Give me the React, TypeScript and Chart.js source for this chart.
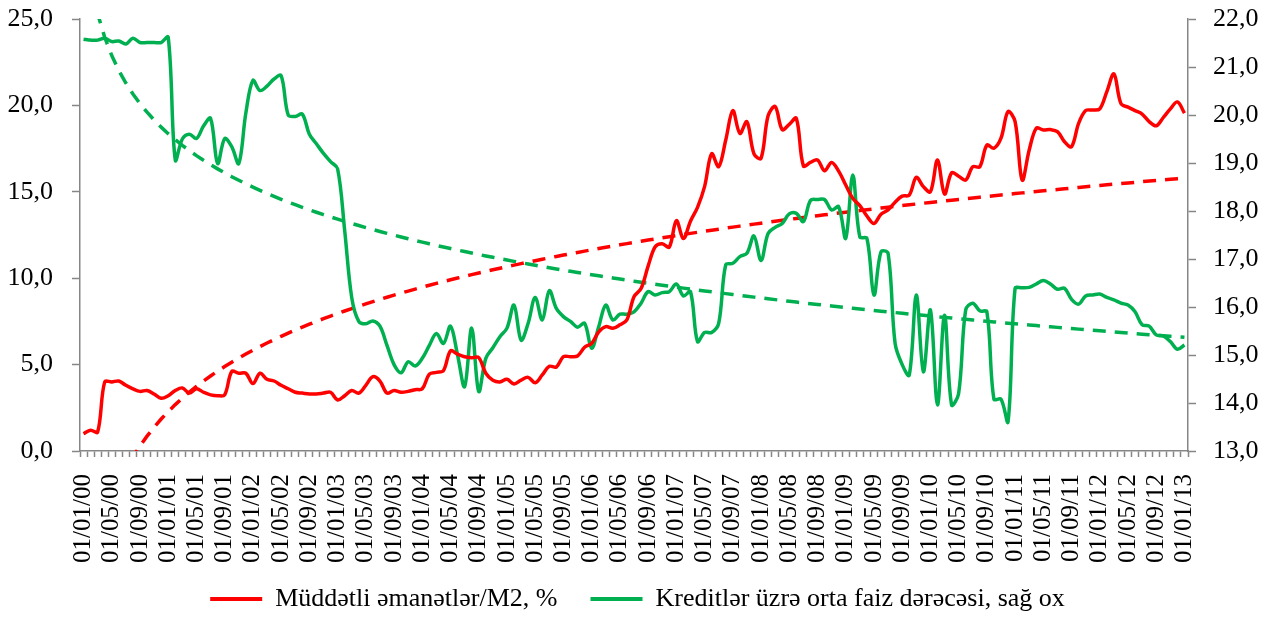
import React, { useEffect, useRef } from 'react';
import { Chart, registerables } from 'chart.js';

Chart.register(...registerables);

// Category labels: monthly, 01/01/00 .. 01/01/13
const monthLabels: string[] = (() => {
  const out: string[] = [];
  for (let y = 2000; y <= 2013; y++) {
    for (let m = 1; m <= 12; m++) {
      if (y === 2013 && m > 1) break;
      out.push(`01/${String(m).padStart(2, '0')}/${String(y % 100).padStart(2, '0')}`);
    }
  }
  return out;
})();

// Show every 4th category label
const tickEvery = 4;

const seriesNames = ['Müddətli əmanətlər/M2, %', 'Kreditlər üzrə orta faiz dərəcəsi, sağ ox'];

// Müddətli əmanətlər/M2, % (left axis)
const termDepositsShare: number[] = [
  1.0, 1.2, 1.1, 4.0, 4.0, 4.05, 3.8, 3.6, 3.45, 3.5,
  3.3, 3.05, 3.2, 3.5, 3.65, 3.35, 3.6, 3.4, 3.25, 3.2,
  3.25, 4.6, 4.5, 4.5, 3.9, 4.5, 4.15, 4.05, 3.8, 3.6,
  3.4, 3.35, 3.3, 3.3, 3.35, 3.4, 2.95, 3.2, 3.5, 3.35,
  3.8, 4.3, 4.05, 3.35, 3.5, 3.4, 3.45, 3.55, 3.6, 4.45,
  4.55, 4.65, 5.8, 5.6, 5.45, 5.4, 5.4, 4.5, 4.1, 4.0,
  4.15, 3.88, 4.1, 4.26, 3.95, 4.4, 4.9, 4.86, 5.46, 5.46,
  5.5, 6.0, 6.23, 6.9, 7.2, 7.1, 7.3, 7.6, 8.93, 9.4,
  10.7, 11.82, 12.0, 11.8, 13.33, 12.3, 13.3, 14.1, 15.3, 17.2,
  16.45, 18.0, 19.7, 18.38, 19.06, 17.2, 16.94, 19.4, 19.93, 18.6,
  18.9, 19.25, 16.5, 16.7, 16.84, 16.22, 16.7, 16.2, 15.39, 14.62,
  14.2, 13.6, 13.17, 13.7, 13.95, 14.4, 14.75, 14.81, 15.84, 15.3,
  15.0, 16.84, 14.87, 16.1, 15.9, 15.68, 16.45, 16.45, 17.7, 17.52,
  18.1, 19.64, 19.06, 15.68, 17.42, 18.68, 18.58, 18.6, 18.48, 17.9,
  17.61, 18.96, 19.7, 19.73, 19.8, 20.8, 21.82, 20.1, 19.9, 19.7,
  19.5, 19.06, 18.82, 19.3, 19.8, 20.2, 19.55,
];

// Kreditlər üzrə orta faiz dərəcəsi (right axis)
const lendingRate: number[] = [
  21.58, 21.56, 21.56, 21.6, 21.53, 21.54, 21.48, 21.6, 21.51, 21.51,
  21.51, 21.51, 21.62, 19.06, 19.5, 19.6, 19.51, 19.77, 19.93, 18.99,
  19.51, 19.34, 18.99, 20.04, 20.72, 20.51, 20.6, 20.75, 20.82, 20.0,
  19.97, 20.02, 19.6, 19.4, 19.2, 19.03, 18.88, 17.6, 16.2, 15.7,
  15.65, 15.71, 15.6, 15.2, 14.8, 14.63, 14.86, 14.77, 14.93, 15.2,
  15.45, 15.24, 15.6, 15.0, 14.34, 15.56, 14.24, 14.93, 15.15, 15.38,
  15.56, 16.04, 15.31, 15.66, 16.2, 15.73, 16.34, 15.97, 15.8, 15.7,
  15.58, 15.66, 15.14, 15.59, 16.04, 15.73, 15.85, 15.85, 15.9, 16.08,
  16.32, 16.25, 16.3, 16.32, 16.48, 16.23, 16.32, 15.28, 15.47, 15.47,
  15.66, 16.88, 16.91, 17.05, 17.12, 17.48, 16.97, 17.53, 17.66, 17.74,
  17.94, 17.95, 17.78, 18.22, 18.24, 18.24, 18.02, 18.09, 17.43, 18.75,
  17.46, 17.43, 16.25, 17.15, 17.12, 15.24, 14.8, 14.58, 16.25, 14.65,
  15.94, 13.96, 15.83, 13.96, 14.2, 15.94, 16.08, 15.92, 15.9, 14.08,
  14.08, 13.61, 16.39, 16.4, 16.41, 16.48, 16.55, 16.48, 16.37, 16.39,
  16.16, 16.06, 16.23, 16.25, 16.27, 16.2, 16.15, 16.08, 16.04, 15.9,
  15.63, 15.6, 15.42, 15.4, 15.28, 15.12, 15.21,
];

const leftTicks = { min: 0, max: 25, step: 5 };
const rightTicks = { min: 13, max: 22, step: 1 };

// Logarithmic trendline (least squares fit of y = a + b*ln(x)), as Excel does
function logTrend(values: number[]): number[] {
  const n = values.length;
  let sx = 0, sy = 0, sxx = 0, sxy = 0;
  for (let i = 0; i < n; i++) {
    const lx = Math.log(i + 1);
    sx += lx; sy += values[i]; sxx += lx * lx; sxy += lx * values[i];
  }
  const b = (n * sxy - sx * sy) / (n * sxx - sx * sx);
  const a = (sy - b * sx) / n;
  return values.map((_, i) => a + b * Math.log(i + 1));
}

const RED = '#FF0000';
const GREEN = '#00B050';
const AXIS = '#868686';
const FONT = "'Times New Roman', 'Liberation Serif', serif";

const fmt = (v: number | string) => Number(v).toFixed(1).replace('.', ',');

const noVerticalPadding = (s: any) => {
  s.paddingTop = 0;
  s.paddingBottom = 0;
};

// let the rotated category labels extend below the axis box (no clipping)
const unclipXLabels = {
  id: 'unclipXLabels',
  beforeDraw(chart: any) {
    const x = chart.scales.x;
    if (x) x._computeLabelArea = () => undefined;
  },
};

export default function App() {
  const ref = useRef<HTMLCanvasElement | null>(null);

  useEffect(() => {
    document.body.style.margin = '0';
    document.body.style.overflow = 'hidden';
    document.documentElement.style.overflow = 'hidden';
    const canvas = ref.current;
    if (!canvas) return;

    const chart = new Chart(canvas, {
      type: 'line',
      data: {
        labels: monthLabels,
        datasets: [
          {
            label: seriesNames[0],
            data: termDepositsShare,
            yAxisID: 'y',
            borderColor: RED,
            backgroundColor: RED,
            borderWidth: 3.5,
            pointRadius: 0,
            tension: 0.35,
            fill: false,
          },
          {
            label: seriesNames[1],
            data: lendingRate,
            yAxisID: 'y1',
            borderColor: GREEN,
            backgroundColor: GREEN,
            borderWidth: 3.5,
            pointRadius: 0,
            tension: 0.35,
            fill: false,
          },
          {
            label: 'trend1',
            data: logTrend(termDepositsShare),
            yAxisID: 'y',
            borderColor: RED,
            backgroundColor: RED,
            borderWidth: 3.5,
            borderDash: [13, 9],
            pointRadius: 0,
            tension: 0,
            fill: false,
            clip: 0,
          },
          {
            label: 'trend2',
            data: logTrend(lendingRate),
            yAxisID: 'y1',
            borderColor: GREEN,
            backgroundColor: GREEN,
            borderWidth: 3.5,
            borderDash: [13, 9],
            pointRadius: 0,
            tension: 0,
            fill: false,
            clip: 0,
          },
        ],
      },
      plugins: [unclipXLabels],
      options: {
        responsive: false,
        animation: false,
        events: [],
        layout: { padding: { top: 19, left: 0, right: 0, bottom: 0 } },
        plugins: {
          tooltip: { enabled: false },
          legend: {
            position: 'bottom',
            labels: {
              boxWidth: 52,
              boxHeight: 4,
              padding: 33,
              color: '#000',
              font: { family: FONT, size: 26 },
              filter: (item: any) => item.datasetIndex < 2,
              generateLabels: (ch: any) =>
                Chart.defaults.plugins.legend.labels
                  .generateLabels(ch)
                  .map((it: any) => ({ ...it, lineWidth: 0, fillStyle: it.strokeStyle })),
            },
          },
        },
        scales: {
          x: {
            type: 'category',
            offset: true,
            afterFit: (s: any) => { s.height = 102; },
            grid: {
              offset: true,
              drawOnChartArea: false,
              drawTicks: true,
              tickLength: 6,
              tickColor: AXIS,
              tickWidth: 1.5,
            },
            border: { display: true, color: AXIS, width: 1.5 },
            ticks: {
              autoSkip: false,
              maxRotation: 90,
              minRotation: 90,
              padding: 17,
              color: '#000',
              font: { family: FONT, size: 25 },
              callback: function (this: any, value: any, index: number) {
                return index % tickEvery === 0 ? monthLabels[index] : '';
              },
            },
          },
          y: {
            position: 'left',
            min: leftTicks.min,
            max: leftTicks.max,
            afterFit: (s: any) => { s.width = 80; noVerticalPadding(s); },
            grid: {
              drawOnChartArea: false,
              drawTicks: true,
              tickLength: 8,
              tickColor: AXIS,
              tickWidth: 1.5,
            },
            border: { display: true, color: AXIS, width: 1.5 },
            ticks: {
              stepSize: leftTicks.step,
              padding: 19,
              color: '#000',
              font: { family: FONT, size: 26 },
              callback: (v: any) => fmt(v),
            },
          },
          y1: {
            position: 'right',
            min: rightTicks.min,
            max: rightTicks.max,
            afterFit: (s: any) => { s.width = 87; noVerticalPadding(s); },
            grid: {
              drawOnChartArea: false,
              drawTicks: true,
              tickLength: 8,
              tickColor: AXIS,
              tickWidth: 1.5,
            },
            border: { display: true, color: AXIS, width: 1.5 },
            ticks: {
              stepSize: rightTicks.step,
              padding: 17,
              color: '#000',
              font: { family: FONT, size: 26 },
              callback: (v: any) => fmt(v),
            },
          },
        },
      } as any,
    });

    return () => chart.destroy();
  }, []);

  return <canvas ref={ref} width={1275} height={622} style={{ display: 'block' }} />;
}
